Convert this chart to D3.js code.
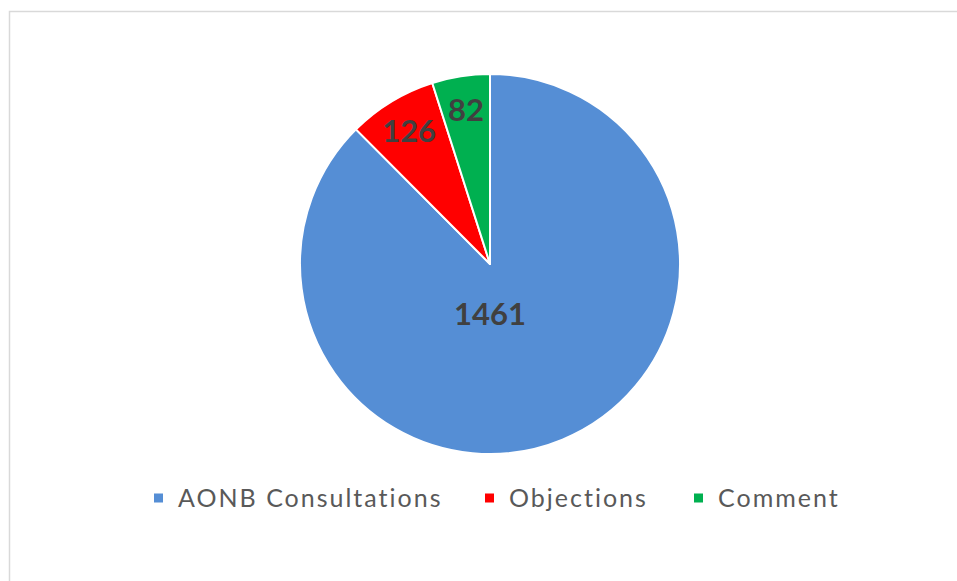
<!DOCTYPE html>
<html><head><meta charset="utf-8">
<script src="https://cdn.jsdelivr.net/npm/d3@7"></script>
<style>body{margin:0;background:#fff;}svg{display:block;}</style>
</head><body>
<svg id="c" width="957" height="581"></svg>
<script>
const categories = ["AONB Consultations", "Objections", "Comment"];
const values = [1461, 126, 82];
const colors = ["#558ED5", "#FF0000", "#00B050"];

const svg = d3.select("#c");
// chart frame (extends past the picture right/bottom)
svg.append("rect").attr("x", 9.5).attr("y", 11.5).attr("width", 960).attr("height", 600)
  .attr("fill", "#fff").attr("stroke", "#D9D9D9").attr("stroke-width", 1.5);

const cx = 490, cy = 264, R = 190;
const data = categories.map((c, i) => ({ cat: c, value: values[i], color: colors[i] }));
const pie = d3.pie().value(d => d.value).sort(null);
const arcs = pie(data);
const arc = d3.arc().innerRadius(0).outerRadius(R);
const g = svg.append("g").attr("transform", `translate(${cx},${cy})`);
g.selectAll("path.slice").data(arcs).join("path")
  .attr("class", "slice")
  .attr("d", arc)
  .attr("fill", d => d.data.color)
  .attr("stroke", "#fff").attr("stroke-width", 2).attr("stroke-linejoin", "round");

const labelArc = d3.arc().innerRadius(R * 0.82).outerRadius(R * 0.82);
const maxV = d3.max(values);
g.selectAll("text.lbl").data(arcs).join("text")
  .attr("class", "lbl")
  .attr("transform", d => {
    if (d.data.value === maxV) return `translate(0,${R * 0.26})`;
    const [x, y] = labelArc.centroid(d);
    return `translate(${x},${y})`;
  })
  .attr("text-anchor", "middle").attr("dy", "0.36em")
  .attr("font-family", "Lato, 'Open Sans', sans-serif")
  .attr("font-weight", "bold").attr("font-size", 31)
  .attr("fill", "#404040")
  .text(d => d.data.value);

// legend
const legendX = [154, 485, 694];
const lg = svg.append("g");
const items = lg.selectAll("g").data(data).join("g")
  .attr("transform", (d, i) => `translate(${legendX[i]},498)`);
items.append("rect").attr("x", 0).attr("y", -4.5).attr("width", 9).attr("height", 9)
  .attr("fill", d => d.color);
items.append("text").attr("x", 24).attr("dy", "0.35em")
  .attr("font-family", "Lato, 'Open Sans', sans-serif").attr("font-size", 25)
  .attr("letter-spacing", 2)
  .attr("fill", "#595959")
  .text(d => d.cat);
</script>
</body></html>
